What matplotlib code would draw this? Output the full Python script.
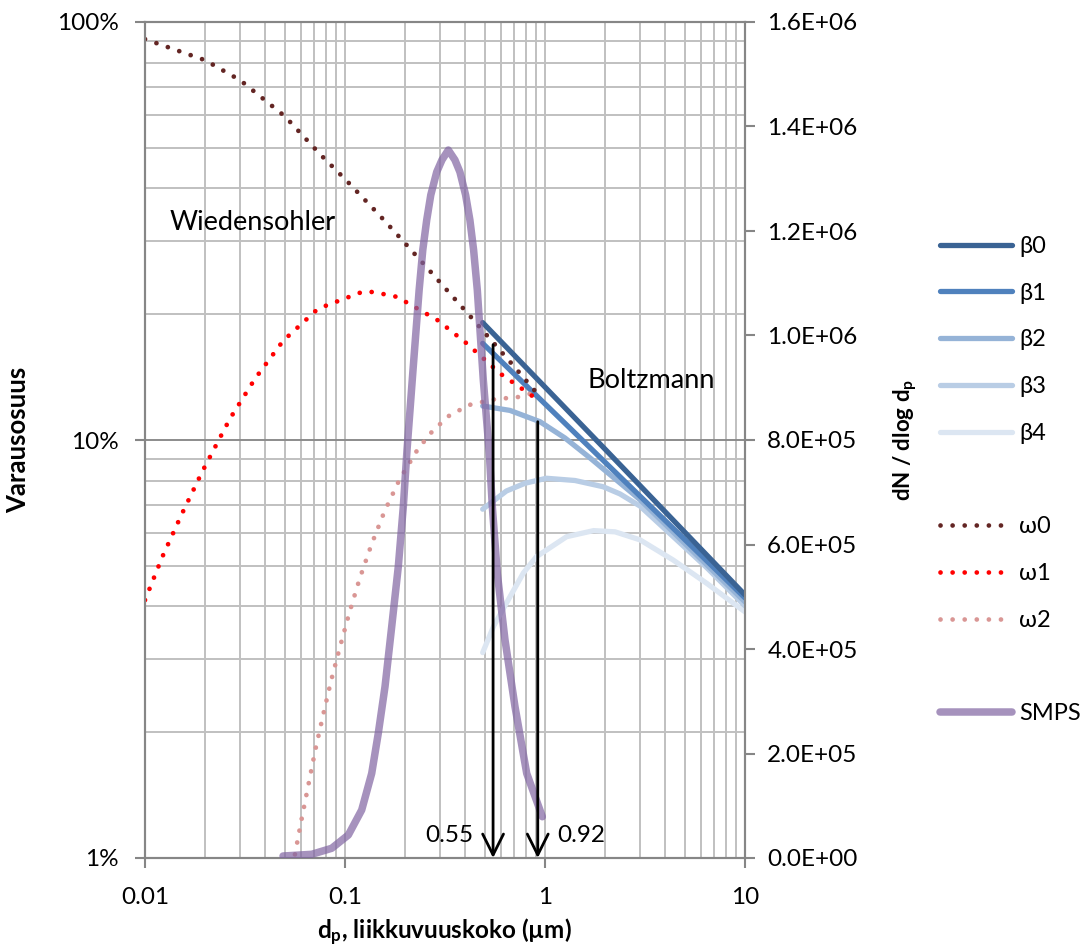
import matplotlib
matplotlib.use("Agg")
import matplotlib.pyplot as plt
from matplotlib.lines import Line2D
from matplotlib.ticker import FixedLocator, FuncFormatter, LogLocator, NullFormatter

plt.rcParams['font.family'] = ['Lato', 'DejaVu Sans']
plt.rcParams['mathtext.fontset'] = 'custom'
plt.rcParams['mathtext.rm'] = 'Lato'
plt.rcParams['mathtext.bf'] = 'Lato:bold'

# ---------------- data ----------------
d_w0 = [0.01, 0.02, 0.03, 0.05, 0.0756, 0.101, 0.147, 0.193, 0.254, 0.304, 0.438, 0.70, 0.956]
w0 = [91.0, 81.0, 72.5, 59.5, 48.1, 41.9, 34.7, 30.1, 26.0, 23.6, 19.4, 15.0, 12.6]

d_w1 = [0.01, 0.0122, 0.0153, 0.0194, 0.0266, 0.0355, 0.0491, 0.0733, 0.1216, 0.1385,
        0.182, 0.2907, 0.4013, 0.6004, 0.9226]
w1 = [4.14, 5.25, 6.66, 8.43, 11.25, 14.02, 17.28, 20.61, 22.6, 22.6,
      22.0, 19.34, 17.1, 14.39, 12.47]

d_w2 = [0.0562, 0.0605, 0.0655, 0.0710, 0.0776, 0.0851, 0.0944, 0.1051, 0.1184, 0.1354,
        0.1572, 0.1868, 0.2310, 0.2745, 0.335, 0.4266, 0.558, 0.7328, 0.9474]
w2 = [1.02, 1.23, 1.49, 1.81, 2.19, 2.65, 3.20, 3.86, 4.66, 5.61,
      6.73, 8.02, 9.50, 10.52, 11.48, 12.17, 12.51, 12.67, 13.1]

d_b0 = [0.488, 2.0, 10.0]
b0 = [19.09, 9.50, 4.26]
d_b1 = [0.488, 2.0, 10.0]
b1 = [17.03, 8.84, 4.19]
d_b2 = [0.488, 0.668, 0.944, 1.259, 1.679, 2.985, 5.31, 10.0]
b2 = [12.06, 11.77, 11.06, 10.11, 9.06, 7.20, 5.50, 4.10]
d_b3 = [0.488, 0.641, 0.795, 1.016, 1.413, 1.953, 2.371, 2.985, 4.38, 6.44, 10.0]
b3 = [6.83, 7.55, 7.88, 8.10, 8.00, 7.73, 7.43, 6.95, 5.87, 4.95, 4.01]
d_b4 = [0.488, 0.554, 0.641, 0.78, 0.907, 1.282, 1.75, 2.239, 2.985, 4.38, 6.44, 10.0]
b4 = [3.10, 3.59, 4.07, 4.81, 5.26, 5.87, 6.07, 6.03, 5.77, 5.16, 4.54, 3.88]

d_smps = [0.049, 0.0682, 0.0858, 0.1039, 0.1212, 0.136, 0.1467, 0.1585, 0.1712, 0.1847,
          0.1957, 0.2042, 0.2188, 0.2348, 0.2449, 0.2562, 0.2685, 0.2875, 0.3054, 0.3285,
          0.3545, 0.3754, 0.4009, 0.4212, 0.4395, 0.4587, 0.4915, 0.5267, 0.5453, 0.5774,
          0.631, 0.708, 0.8101, 0.9697]
smps = [3.8e3, 7.1e3, 18.6e3, 44e3, 91.9e3, 162e3, 238.7e3, 327.9e3, 442.7e3, 557.6e3,
        672.4e3, 780.9e3, 934e3, 1087e3, 1164e3, 1221e3, 1269e3, 1313e3, 1336e3, 1355e3,
        1336e3, 1313e3, 1269e3, 1221e3, 1164e3, 1087e3, 915e3, 774.6e3, 672.4e3, 544.9e3,
        417.3e3, 289.6e3, 162e3, 79e3]

arrow_x = [0.55, 0.92]
arrow_top = [16.9, 11.06]
arrow_labels = ['0.55', '0.92']

x_ticks = [0.01, 0.1, 1, 10]
x_ticklabels = ['0.01', '0.1', '1', '10']
y_ticks = [1, 10, 100]
y2_ticks = [0, 2e5, 4e5, 6e5, 8e5, 1.0e6, 1.2e6, 1.4e6, 1.6e6]

# ---------------- figure ----------------
W, H = 1087, 951
fig = plt.figure(figsize=(W / 100, H / 100), dpi=100)
L, R, T, B = 145, 745, 22, 858
ax = fig.add_axes([L / W, 1 - B / H, (R - L) / W, (B - T) / H])
ax2 = ax.twinx()

ax.set_xscale('log')
ax.set_yscale('log')
ax.set_xlim(0.01, 10)
ax.set_ylim(1, 100)
ax2.set_ylim(0, 1.6e6)

ax.xaxis.set_major_locator(FixedLocator(x_ticks))
ax.set_xticklabels(x_ticklabels)
ax.xaxis.set_minor_locator(LogLocator(base=10, subs=range(2, 10)))
ax.xaxis.set_minor_formatter(NullFormatter())
ax.yaxis.set_major_locator(FixedLocator(y_ticks))
ax.yaxis.set_major_formatter(FuncFormatter(lambda v, p: f'{v:g}%'))
ax.yaxis.set_minor_locator(LogLocator(base=10, subs=range(2, 10)))
ax.yaxis.set_minor_formatter(NullFormatter())
ax2.yaxis.set_major_locator(FixedLocator(y2_ticks))
ax2.yaxis.set_major_formatter(FuncFormatter(lambda v, p: f'{v:.1E}'))

grid_light = '#C0C0C0'
grid_dark = '#8C8C8C'
ax.grid(True, which='both', axis='x', color=grid_light, lw=1.4)
ax.grid(True, which='minor', axis='y', color=grid_light, lw=1.4)
ax.grid(True, which='major', axis='y', color=grid_dark, lw=1.4)
ax.set_axisbelow(True)

spine_c = '#868686'
for a in (ax, ax2):
    for s in a.spines.values():
        s.set_color(spine_c)
        s.set_linewidth(1.5)
ax.tick_params(axis='both', which='major', direction='out', length=7, width=1.5,
               color=spine_c, labelsize=17.5, labelcolor='black')
ax.tick_params(axis='both', which='minor', length=0)
ax.tick_params(axis='x', pad=14)
ax.tick_params(axis='y', pad=12)
ax2.tick_params(axis='y', which='major', direction='out', length=7, width=1.5,
                color=spine_c, labelsize=17.5, labelcolor='black', pad=9)

# ---------------- series ----------------
blues = ['#3A6394', '#4F81BD', '#95B3D7', '#B9CDE5', '#DCE6F2']
beta_d = [d_b0, d_b1, d_b2, d_b3, d_b4]
beta_v = [b0, b1, b2, b3, b4]
beta_lines = []
for i in range(4, -1, -1):
    ln, = ax.plot(beta_d[i], beta_v[i], color=blues[i], lw=3.8, solid_capstyle='round',
                  solid_joinstyle='round', label=f'β{i}', zorder=3 + (5 - i) * 0.01)
    beta_lines.append(ln)
beta_lines = beta_lines[::-1]

dot = (0, (0.01, 2.55))
w_cols = ['#632523', '#FF0000', '#D99694']
w_lines = []
for dd, vv, c, lab in [(d_w2, w2, w_cols[2], 'ω2'), (d_w1, w1, w_cols[1], 'ω1'),
                       (d_w0, w0, w_cols[0], 'ω0')]:
    ln, = ax.plot(dd, vv, color=c, lw=3.4, linestyle=dot, dash_capstyle='round',
                  label=lab, zorder=4)
    w_lines.append(ln)
w_lines = w_lines[::-1]

smps_line, = ax2.plot(d_smps, smps, color='#8064A2', alpha=0.70, lw=5.4,
                      solid_capstyle='round', solid_joinstyle='round',
                      label='SMPS', zorder=5)

# arrows and their labels
for xa, yt in zip(arrow_x, arrow_top):
    ax2.annotate('', xy=(xa, 1.0), xycoords=ax.transData, xytext=(xa, yt),
                 textcoords=ax.transData,
                 arrowprops=dict(arrowstyle='->,head_length=1.5,head_width=0.75',
                                 color='black', lw=2.0, shrinkA=0, shrinkB=0),
                 zorder=8, annotation_clip=False)
ax.text(0.44, 1.135, arrow_labels[0], ha='right', va='center', fontsize=17.5, zorder=9)
ax.text(1.15, 1.135, arrow_labels[1], ha='left', va='center', fontsize=17.5, zorder=9)

ax.text(0.0132, 33.2, 'Wiedensohler', ha='left', va='center', fontsize=19.5, zorder=9)
ax.text(1.64, 13.9, 'Boltzmann', ha='left', va='center', fontsize=19.5, zorder=9)

# axis labels
ax.set_xlabel(r'$\mathbf{d_p}$, liikkuvuuskoko (µm)', fontsize=17.5, fontweight='bold',
              labelpad=6)
fig.text(18 / W, 1 - 440 / H, 'Varausosuus', rotation=90, ha='center', va='center',
         fontsize=18.5, fontweight='bold')
fig.text(905 / W, 1 - 440 / H, r'dN / dlog d$_\mathbf{p}$', rotation=90, ha='center',
         va='center', fontsize=16, fontweight='bold')

# legend
blank = Line2D([], [], color='none', label=' ')
handles = beta_lines + [blank] + w_lines + [blank, smps_line]
leg = fig.legend(handles=handles, labels=[h.get_label() for h in handles],
                 loc='upper left', bbox_to_anchor=(940 / W, 1 - 236 / H),
                 frameon=False, fontsize=17, handlelength=3.05, handletextpad=0.3,
                 labelspacing=1.09, borderaxespad=0, borderpad=0)

fig.savefig('out.png', dpi=100)
